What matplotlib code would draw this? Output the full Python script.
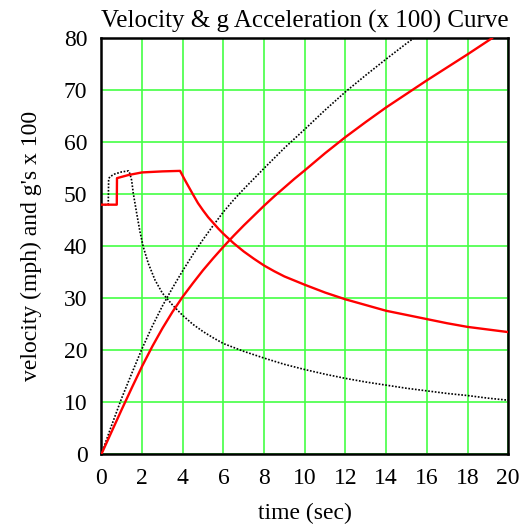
import matplotlib
matplotlib.use("Agg")
import matplotlib.pyplot as plt

# Red velocity (mph)
t_vel_red = [0, 0.5, 1, 1.5, 2, 2.5, 3, 3.5, 4, 4.5, 5, 5.5, 6, 6.5, 7, 7.5, 8, 8.5, 9, 9.5, 10,
             11, 12, 13, 14, 15, 16, 17, 18, 19.2]
v_vel_red = [0, 4.3, 8.6, 12.8, 16.9, 20.7, 24.2, 27.4, 30.3, 32.9, 35.4, 37.7, 39.9, 42.0, 44.0, 45.9, 47.8, 49.6, 51.3, 53.0, 54.6,
             57.9, 61.0, 63.9, 66.7, 69.3, 71.9, 74.4, 76.9, 80]

# Red acceleration (g x 100)
t_acc_red = [0, 0.76, 0.77, 1.33, 2.0, 3.0, 3.87, 4.1, 4.3, 4.5, 4.75, 5.0, 5.25, 5.5, 5.75, 6.0, 6.5, 7.0, 7.5,
             8.0, 8.5, 9.0, 9.5, 10, 11, 12, 13, 14, 15, 16, 17, 18, 19, 20]
v_acc_red = [48, 48, 53.1, 53.7, 54.2, 54.4, 54.5, 52.8, 51.4, 50.0, 48.3, 46.9, 45.6, 44.5, 43.4, 42.4, 40.6, 39.0, 37.6,
             36.3, 35.2, 34.2, 33.4, 32.6, 31.1, 29.8, 28.7, 27.6, 26.8, 26.0, 25.2, 24.5, 24.0, 23.5]

# Black dotted velocity (mph)
t_vel_blk = [0, 0.5, 1, 1.5, 2, 2.5, 3, 3.5, 4, 4.5, 5, 5.5, 6, 6.5, 7, 7.5, 8, 9, 10, 11, 12, 13, 14, 15, 15.35]
v_vel_blk = [0, 5.5, 10.8, 15.6, 20.3, 24.6, 28.5, 32.0, 35.3, 38.4, 41.3, 44.0, 46.6, 48.9, 51.0, 53.0, 55.0, 58.9, 62.5, 66.2, 69.7, 72.9, 76.0, 79.0, 80]

# Black dotted acceleration (g x 100)
t_acc_blk = [0, 0.34, 0.36, 0.43, 0.66, 1.0, 1.33, 1.40, 1.49, 1.57, 1.74, 1.90, 2.06, 2.31, 2.64, 3.0, 3.5, 4.0, 4.5,
             5.0, 5.5, 6.0, 7.0, 8.0, 9.0, 10, 11, 12, 13, 14, 15, 16, 17, 18, 19, 20]
v_acc_blk = [48, 48, 53.0, 53.4, 53.9, 54.3, 54.5, 54.0, 52.7, 50.2, 46.3, 42.8, 39.9, 36.7, 33.5, 31.0, 28.7, 26.7, 25.0,
             23.6, 22.4, 21.3, 19.8, 18.5, 17.3, 16.3, 15.4, 14.6, 13.9, 13.3, 12.7, 12.2, 11.7, 11.3, 10.8, 10.4]

x_ticks = [0, 2, 4, 6, 8, 10, 12, 14, 16, 18, 20]
y_ticks = [0, 10, 20, 30, 40, 50, 60, 70, 80]

plt.rcParams['font.family'] = ['Liberation Serif', 'DejaVu Serif']

fig = plt.figure(figsize=(5.25, 5.24), dpi=100)
ax = fig.add_axes([0.193, 0.133, 0.775, 0.794])

ax.plot(t_vel_blk, v_vel_blk, color='black', lw=1.2, linestyle=(0, (1, 1)), zorder=3)
ax.plot(t_acc_blk, v_acc_blk, color='black', lw=1.2, linestyle=(0, (1, 1)), zorder=3)
ax.plot(t_vel_red, v_vel_red, color='red', lw=1.7, zorder=4)
ax.plot(t_acc_red, v_acc_red, color='red', lw=1.7, zorder=4)

ax.set_xlim(0, 20)
ax.set_ylim(0, 80)
ax.set_xticks(x_ticks)
ax.set_yticks(y_ticks)
ax.set_xticklabels([str(v) for v in x_ticks])
ax.set_yticklabels([str(v) for v in y_ticks])
ax.tick_params(axis='both', length=0, labelsize=17)
ax.tick_params(axis='x', pad=10)
ax.tick_params(axis='y', pad=10)
ax.grid(True, color='#44ff44', lw=1.2, zorder=1)
ax.set_axisbelow(True)
for s in ax.spines.values():
    s.set_color('black')
    s.set_linewidth(1.8)

ax.set_title('Velocity & g Acceleration (x 100) Curve', fontsize=18, pad=8)
ax.set_xlabel('time (sec)', fontsize=17, labelpad=10)
ax.set_ylabel("velocity (mph) and g's x 100", fontsize=17, labelpad=16)

fig.savefig('out.png', dpi=100)
